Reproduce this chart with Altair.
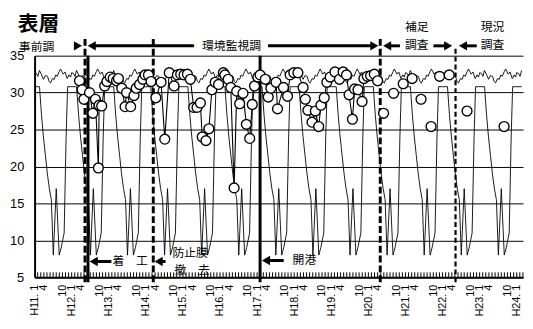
import altair as alt
import pandas as pd

# x unit: Heisei year as a decimal (11.0 = H11.1, 11.25 = H11.4, 11.75 = H11.10)
T0, T1 = 11.0, 24.17
PW, PH = 496, 225
JP = "Noto Sans CJK JP"

# observation circles, connected (H12 - H20)
obs_t = [12.21, 12.28, 12.33, 12.48, 12.57, 12.64, 12.72, 12.74, 12.81, 12.89, 12.95,
         13.04, 13.12, 13.21, 13.26, 13.35, 13.44, 13.48, 13.59, 13.68, 13.74, 13.83,
         13.92, 13.98, 14.07, 14.14, 14.27, 14.41, 14.51, 14.63, 14.76, 14.85, 14.94,
         15.03, 15.12, 15.20, 15.29, 15.38, 15.47, 15.52, 15.62, 15.70, 15.78, 15.87,
         15.96, 16.09, 16.13, 16.22, 16.29, 16.38, 16.45, 16.53, 16.62, 16.71, 16.80,
         16.87, 16.93, 17.02, 17.08, 17.22, 17.30, 17.37, 17.51, 17.55, 17.71, 17.82,
         17.89, 17.99, 18.10, 18.24, 18.30, 18.37, 18.48, 18.57, 18.66, 18.72, 18.81,
         18.88, 18.97, 19.10, 19.22, 19.32, 19.41, 19.48, 19.57, 19.63, 19.72, 19.83,
         19.88, 19.97, 20.06, 20.16, 20.25]
obs_v = [31.6, 30.4, 29.1, 30.0, 27.2, 29.1, 19.8, 28.3, 28.2, 30.9, 31.5,
         32.1, 31.9, 31.6, 31.9, 30.6, 28.1, 30.0, 28.1, 29.6, 30.6, 31.1,
         31.8, 32.4, 32.4, 31.5, 29.3, 31.4, 23.7, 32.7, 30.9, 32.4, 32.5,
         32.4, 32.5, 31.8, 28.0, 28.0, 28.6, 24.0, 23.5, 25.1, 30.4, 31.4,
         31.1, 32.7, 32.4, 31.8, 30.7, 17.1, 30.2, 28.5, 29.9, 25.7, 23.8,
         28.4, 30.9, 32.1, 32.4, 31.8, 29.4, 30.6, 31.4, 27.8, 30.7, 29.5,
         32.4, 32.7, 32.7, 30.7, 29.1, 27.6, 26.0, 27.5, 25.4, 28.3, 29.3,
         31.4, 32.1, 32.8, 31.8, 32.8, 32.4, 29.7, 26.4, 30.5, 30.4, 28.8,
         31.9, 32.2, 32.3, 32.5, 31.6]

# observation circles, not connected (補足調査・現況調査)
sep_t = [20.41, 20.68, 20.94, 21.18, 21.42, 21.69, 21.92, 22.18, 22.66, 23.66]
sep_v = [27.2, 29.9, 31.2, 31.9, 29.1, 25.4, 32.2, 32.4, 27.5, 25.4]

# reference lines: the same annual curve repeats every year (fraction of year, value)
years = list(range(10, 25))
low_f = [0.000, 0.133, 0.186, 0.239, 0.292, 0.345, 0.398, 0.452, 0.505, 0.584,
         0.664, 0.717, 0.797, 0.850, 0.890]
low_v = [30.8, 30.8, 27.0, 24.0, 21.5, 19.0, 17.0, 15.5, 8.0, 17.0,
         8.0, 9.0, 11.0, 24.0, 30.8]
up_f = [0.00, 0.05, 0.09, 0.13, 0.19, 0.24, 0.29, 0.35, 0.39, 0.43, 0.48,
        0.53, 0.57, 0.61, 0.66, 0.70, 0.74, 0.77, 0.82, 0.88, 0.93, 0.97]
up_v = [32.7, 32.6, 32.2, 33.0, 32.4, 31.8, 32.3, 32.2, 31.5, 31.3, 31.9,
        31.8, 32.4, 32.2, 32.8, 33.2, 32.8, 32.5, 32.8, 31.9, 32.4, 32.1]

# event lines
ev_t = [12.36, 12.44, 14.20, 17.08, 20.32, 22.35]
ev_kind = ["dash", "solid", "dash", "solid", "dash", "dash2"]

ref_rows = []
for y in years:
    for f, v in zip(low_f, low_v):
        ref_rows.append({"t": y + f, "v": v, "s": "low"})
    for f, v in zip(up_f, up_v):
        ref_rows.append({"t": y + f, "v": v, "s": "up"})
ref = pd.DataFrame(ref_rows)
obs = pd.DataFrame({"t": obs_t, "v": obs_v})
sep = pd.DataFrame({"t": sep_t, "v": sep_v})
ev = pd.DataFrame({"t": ev_t, "k": ev_kind})

label_vals = []
for y in range(11, 25):
    for f in (0.0, 0.25, 0.75):
        if y + f <= T1:
            label_vals.append(y + f)
month_ticks = pd.DataFrame({"t": [y + m / 12 for y in range(11, 25) for m in range(12)
                                  if 0 < y + m / 12 - T0 and y + m / 12 <= T1]})

xs = alt.Scale(domain=[T0, T1], nice=False, zero=False)
ys = alt.Scale(domain=[5, 35], nice=False, zero=False)

label_expr = ("round(datum.value*12) % 12 == 0 ? 'H' + round(datum.value) + '. 1' : "
              "(round(datum.value*12) % 12 == 3 ? '4' : '10')")

X = alt.X("t:Q", scale=xs, axis=alt.Axis(values=label_vals, tickCount=200, labelExpr=label_expr,
                                         labelAngle=270, labelAlign="right", labelBaseline="middle",
                                         labelPadding=7, ticks=False, grid=False, title=None,
                                         domainColor="#000", domainWidth=2, labelFont="Liberation Sans",
                                         labelFontSize=11, labelColor="#000", labelOverlap=False))
Y = alt.Y("v:Q", scale=ys, axis=alt.Axis(values=[5, 10, 15, 20, 25, 30, 35], tickCount=50, grid=True,
                                         format="d", gridColor="#000", gridWidth=1, ticks=False,
                                         labelPadding=11, title=None, domainColor="#000", domainWidth=2,
                                         labelFont="Liberation Sans", labelFontSize=13,
                                         labelColor="#000", labelOverlap=False))

ref_lines = alt.Chart(ref).transform_filter(
    (alt.datum.t >= T0) & (alt.datum.t <= T1)).mark_line(color="#000", strokeWidth=0.9).encode(
    x=X, y=Y, detail="s:N")

obs_line = alt.Chart(obs).mark_line(color="#000", strokeWidth=1.1).encode(x="t:Q", y="v:Q")
obs_pts = alt.Chart(obs).mark_point(filled=True, fill="#fff", stroke="#000", strokeWidth=1.4,
                                    size=100, opacity=1).encode(x="t:Q", y="v:Q")
sep_pts = alt.Chart(sep).mark_point(filled=True, fill="#fff", stroke="#000", strokeWidth=1.4,
                                    size=100, opacity=1).encode(x="t:Q", y="v:Q")

mticks = alt.Chart(month_ticks).mark_rule(color="#000", strokeWidth=1).encode(
    x="t:Q", y=alt.value(PH), y2=alt.value(PH - 5))

def ev_rule(kind, dash, width, top):
    return alt.Chart(ev[ev.k == kind]).mark_rule(color="#000", strokeWidth=width, strokeDash=dash).encode(
        x="t:Q", y=alt.value(top), y2=alt.value(PH + 5))

ev_dash = ev_rule("dash", [7, 3], 3, -17)
ev_solid = ev_rule("solid", [1, 0], 3, 0)
ev_dash2 = ev_rule("dash2", [5, 3], 2.2, -7)

# annotations (pixel positions relative to the plot area)
OX, OY = 35, 54
txt = pd.DataFrame([
    {"x": 37 - OX, "y": 45 - OY, "s": "事前調"},
    {"x": 235 - OX, "y": 44 - OY, "s": "環境監視調"},
    {"x": 423 - OX, "y": 25 - OY, "s": "補足"},
    {"x": 423 - OX, "y": 43 - OY, "s": "調査"},
    {"x": 500 - OX, "y": 25 - OY, "s": "現況"},
    {"x": 500 - OX, "y": 43 - OY, "s": "調査"},
    {"x": 132 - OX, "y": 263 - OY, "s": "着　工"},
    {"x": 193 - OX, "y": 254 - OY, "s": "防止膜"},
    {"x": 195 - OX, "y": 272 - OY, "s": "撤　去"},
    {"x": 309 - OX, "y": 262 - OY, "s": "開港"},
])
texts = alt.Chart(txt).mark_text(font=JP, fontSize=12, color="#000", baseline="middle", align="center").encode(
    x=alt.X("x:Q", scale=None), y=alt.Y("y:Q", scale=None), text="s:N")

title = alt.Chart(pd.DataFrame({"x": [39 - OX], "y": [23 - OY], "s": ["表層"]})).mark_text(
    font=JP, fontSize=21, fontWeight="bold", color="#000", baseline="middle", align="center").encode(
    x=alt.X("x:Q", scale=None), y=alt.Y("y:Q", scale=None), text="s:N")

shafts = pd.DataFrame([
    {"x": 95 - OX, "x2": 197 - OX, "y": 44 - OY},
    {"x": 272 - OX, "x2": 378 - OX, "y": 44 - OY},
    {"x": 395 - OX, "x2": 406 - OX, "y": 44 - OY},
    {"x": 440 - OX, "x2": 452 - OX, "y": 44 - OY},
    {"x": 470 - OX, "x2": 484 - OX, "y": 44 - OY},
    {"x": 95 - OX, "x2": 113 - OX, "y": 263 - OY},
    {"x": 160 - OX, "x2": 168 - OX, "y": 263 - OY},
    {"x": 270 - OX, "x2": 288 - OX, "y": 262 - OY},
])
shaft_m = alt.Chart(shafts).mark_rule(color="#000", strokeWidth=3).encode(
    x=alt.X("x:Q", scale=None), x2="x2:Q", y=alt.Y("y:Q", scale=None))

heads = pd.DataFrame([
    {"x": 79 - OX, "y": 44 - OY, "sh": "triangle-right"},
    {"x": 93 - OX, "y": 44 - OY, "sh": "triangle-left"},
    {"x": 380 - OX, "y": 44 - OY, "sh": "triangle-right"},
    {"x": 393 - OX, "y": 44 - OY, "sh": "triangle-left"},
    {"x": 455 - OX, "y": 44 - OY, "sh": "triangle-right"},
    {"x": 470 - OX, "y": 44 - OY, "sh": "triangle-left"},
    {"x": 95 - OX, "y": 263 - OY, "sh": "triangle-left"},
    {"x": 161 - OX, "y": 263 - OY, "sh": "triangle-left"},
    {"x": 270 - OX, "y": 262 - OY, "sh": "triangle-left"},
])
head_m = alt.Chart(heads).mark_point(filled=True, color="#000", size=90, opacity=1).encode(
    x=alt.X("x:Q", scale=None), y=alt.Y("y:Q", scale=None),
    shape=alt.Shape("sh:N", scale=None))

chart = alt.layer(ref_lines, mticks, obs_line, ev_dash, ev_solid, ev_dash2, obs_pts, sep_pts,
                  shaft_m, head_m, texts, title).properties(
    width=PW, height=PH,
    padding={"left": 27, "top": 46, "right": 2, "bottom": 42},
    autosize=alt.AutoSizeParams(type="none"),
).configure_view(stroke=None)

chart.save("out.html", embed_options={"renderer": "svg", "actions": False})
